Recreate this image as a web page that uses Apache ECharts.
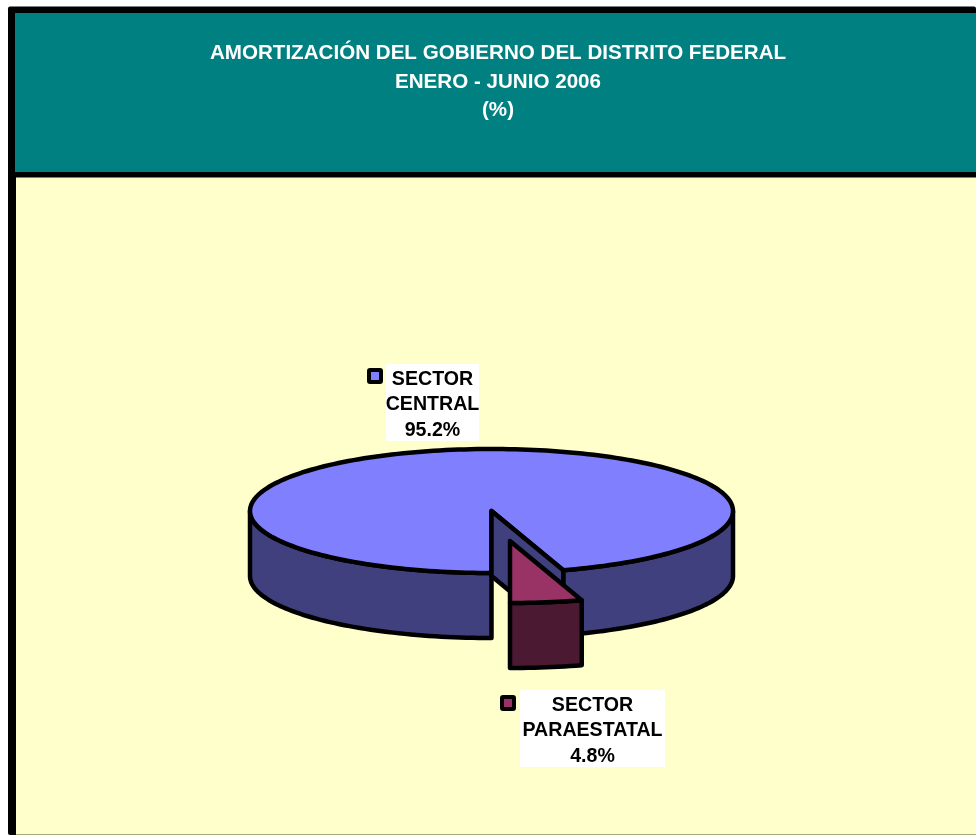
<!DOCTYPE html>
<html><head><meta charset="utf-8">
<style>html,body{margin:0;padding:0;background:#fff}#c{width:976px;height:836px}</style>
<script src="https://cdn.jsdelivr.net/npm/echarts@6/dist/echarts.min.js"></script>
</head><body><div id="c"></div>
<script>
const titleLines = ['AMORTIZACIÓN DEL GOBIERNO DEL DISTRITO FEDERAL', 'ENERO - JUNIO 2006', '(%)'];
const categories = ['SECTOR\nCENTRAL', 'SECTOR\nPARAESTATAL'];
const values = [95.2, 4.8];

const topColors = ['#8080FF', '#993366'];
const wallColors = ['#40407F', '#4C1933'];
const sliceOffsets = [[0, 0], [18.5, 30]];
const labelBoxes = [[386, 364, 93, 77], [520, 690, 145, 77]];
const keyBoxes = [[367, 368], [500, 695]];
const centre = [491.5, 511], rx = 241.5, ry = 62, depth = 65, outline = 4.5;
const startAngle = 180;

const total = values.reduce((a, b) => a + b, 0);
const font = 'bold 19.6px "Liberation Sans", Arial, sans-serif';

function renderSlice(params, api) {
  const i = params.dataIndex;
  let before = 0;
  for (let k = 0; k < i; k++) before += values[k];
  const value = api.value(1);
  const a0 = startAngle + before / total * 360;
  const a1 = a0 + value / total * 360;
  const cx = centre[0] + sliceOffsets[i][0], cy = centre[1] + sliceOffsets[i][1];
  const pt = (deg, dz) => {
    const t = deg * Math.PI / 180;
    return [cx + rx * Math.sin(t), cy - ry * Math.cos(t) + dz];
  };
  const arc = (from, to, dz) => {
    const out = [], n = Math.max(2, Math.ceil(Math.abs(to - from) / 1.5));
    for (let s = 0; s <= n; s++) out.push(pt(from + (to - from) * s / n, dz));
    return out;
  };
  const poly = (points, fill) => ({
    type: 'polygon', shape: { points },
    style: { fill, stroke: '#000', lineWidth: outline, lineJoin: 'round' }
  });
  const children = [];
  // the outer wall is visible only where the rim faces the viewer (90°..270°)
  for (let turn = 0; turn <= 360; turn += 360) {
    const from = Math.max(a0, 90 + turn), to = Math.min(a1, 270 + turn);
    if (to > from) children.push(poly(arc(from, to, 0).concat(arc(to, from, depth)), wallColors[i]));
  }
  children.push(poly([[cx, cy]].concat(arc(a0, a1, 0)), topColors[i]));
  // the cut face left open by the neighbouring slice
  if (i === 0) {
    const e = pt(a1, 0), b = pt(a1, depth);
    children.push(poly([[cx, cy], e, b, [cx, cy + depth]], wallColors[i]));
  }
  const box = labelBoxes[i], key = keyBoxes[i];
  children.push({
    type: 'rect', shape: { x: key[0] + 2, y: key[1] + 2, width: 12, height: 12, r: 1 },
    style: { fill: topColors[i], stroke: '#000', lineWidth: 4, lineJoin: 'round' }
  });
  children.push({ type: 'rect', shape: { x: box[0], y: box[1], width: box[2], height: box[3] }, style: { fill: '#fff' } });
  children.push({
    type: 'text',
    style: {
      x: box[0] + box[2] / 2, y: box[1] + box[3] / 2 + 2.5,
      text: categories[i] + '\n' + value.toFixed(1) + '%',
      font, fill: '#000', align: 'center', verticalAlign: 'middle', lineHeight: 25.5
    }
  });
  return { type: 'group', children };
}

const chart = echarts.init(document.getElementById('c'), null, { renderer: 'canvas' });
chart.setOption({
  animation: false,
  backgroundColor: '#fff',
  graphic: [
    { type: 'rect', z: -10, shape: { x: 8, y: 6.5, width: 968, height: 828.5, r: 2 }, style: { fill: '#000' } },
    { type: 'rect', z: -9, shape: { x: 15, y: 13, width: 961, height: 159 }, style: { fill: '#008080' } },
    { type: 'rect', z: -9, shape: { x: 16, y: 177.5, width: 960, height: 656.5 }, style: { fill: '#FFFFCC' } },
    { type: 'rect', z: -9, shape: { x: 16, y: 834, width: 960, height: 1 }, style: { fill: '#A8A878' } }
  ],
  title: titleLines.map((line, k) => ({
    text: line, left: 498, top: 53.5 + k * 28.5, textAlign: 'center', textVerticalAlign: 'middle', padding: 0,
    textStyle: { color: '#fff', fontFamily: '"Liberation Sans", Arial, sans-serif', fontWeight: 'bold', fontSize: 20.6 }
  })),
  series: [{
    type: 'custom', coordinateSystem: 'none', silent: true,
    data: categories.map((c, k) => ({ name: c, value: [k, values[k]] })),
    renderItem: renderSlice
  }]
});
</script></body></html>
